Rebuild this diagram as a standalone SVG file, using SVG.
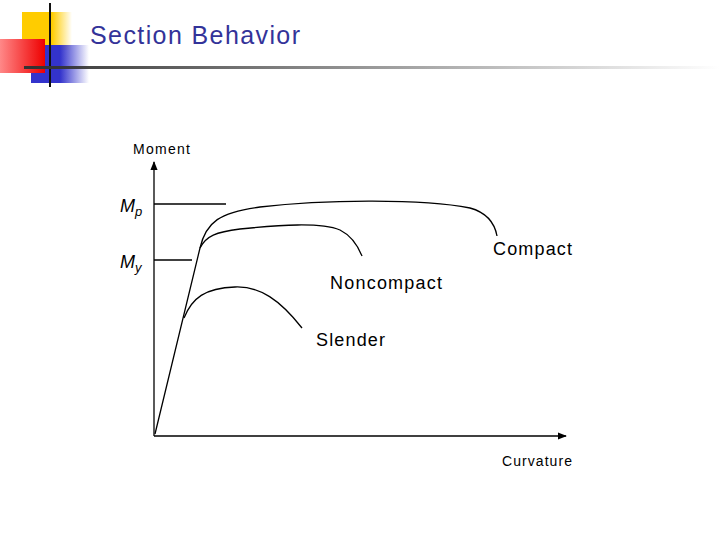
<svg xmlns="http://www.w3.org/2000/svg" width="720" height="540" viewBox="0 0 720 540">
<defs>
<linearGradient id="rl" x1="0" x2="1"><stop offset="0" stop-color="#333"/><stop offset="1" stop-color="#333" stop-opacity="0"/></linearGradient>
<linearGradient id="red" x1="0" x2="1"><stop offset="0" stop-color="#f88"/><stop offset="1" stop-color="#e00"/></linearGradient>
<linearGradient id="blue" x1="0" x2="1"><stop offset="0.5" stop-color="#33c"/><stop offset="1" stop-color="#33c" stop-opacity="0"/></linearGradient>
<linearGradient id="yel" x1="0" x2="1"><stop offset="0.6" stop-color="#fc0"/><stop offset="1" stop-color="#fc0" stop-opacity="0"/></linearGradient>
<marker id="ah" viewBox="0 0 10 10" refX="9" refY="5" markerWidth="7" markerHeight="7" orient="auto"><path d="M0,1 L10,5 L0,9 Z" fill="#000"/></marker>
</defs>
<style>
.t{font-family:"Liberation Sans",Arial,sans-serif;fill:#000}
.c{fill:none;stroke:#000;stroke-width:1.3}
</style>
<rect width="720" height="540" fill="#fff"/>
<g id="logo">
<rect x="22" y="12" width="50" height="38" fill="url(#yel)"/>
<rect x="31" y="45" width="58" height="38" fill="url(#blue)"/>
<rect x="0" y="39" width="45" height="34" fill="url(#red)"/>
<line x1="50" y1="3" x2="50" y2="87" stroke="#111" stroke-width="2"/>
<rect x="24" y="66" width="696" height="3" fill="url(#rl)"/>
</g>
<text class="t" x="90" y="44" font-size="25" textLength="210" style="fill:#333399">Section Behavior</text>
<g id="connectors">
<line class="c" x1="154" y1="436" x2="154" y2="162" stroke-width="2" marker-end="url(#ah)"/>
<line class="c" x1="154" y1="436" x2="566" y2="436" stroke-width="2" marker-end="url(#ah)"/>
<line class="c" x1="154" y1="204" x2="226" y2="204"/>
<line class="c" x1="154" y1="260" x2="192" y2="260"/>
<path class="c" d="M155,434 L200,248 C206,222 220,212 260,207 C320,200 420,198 470,208 C488,213 495,225 497,236"/>
<path class="c" d="M200,248 C206,236 216,232 240,229 C280,225 320,222 340,230 C352,236 358,246 362,256"/>
<path class="c" d="M184,318 C192,298 205,288 235,287 C260,286 280,300 302,328"/>
</g>
<text class="t" x="133" y="154" font-size="14" textLength="57">Moment</text>
<text class="t" x="120" y="212" font-size="18" font-style="italic">M<tspan font-size="13" dy="4">p</tspan></text>
<text class="t" x="120" y="268" font-size="18" font-style="italic">M<tspan font-size="13" dy="4">y</tspan></text>
<text class="t" x="493" y="255" font-size="18" textLength="79">Compact</text>
<text class="t" x="330" y="289" font-size="18" textLength="112">Noncompact</text>
<text class="t" x="316" y="346" font-size="18" textLength="69">Slender</text>
<text class="t" x="502" y="466" font-size="14" textLength="70">Curvature</text>
</svg>
